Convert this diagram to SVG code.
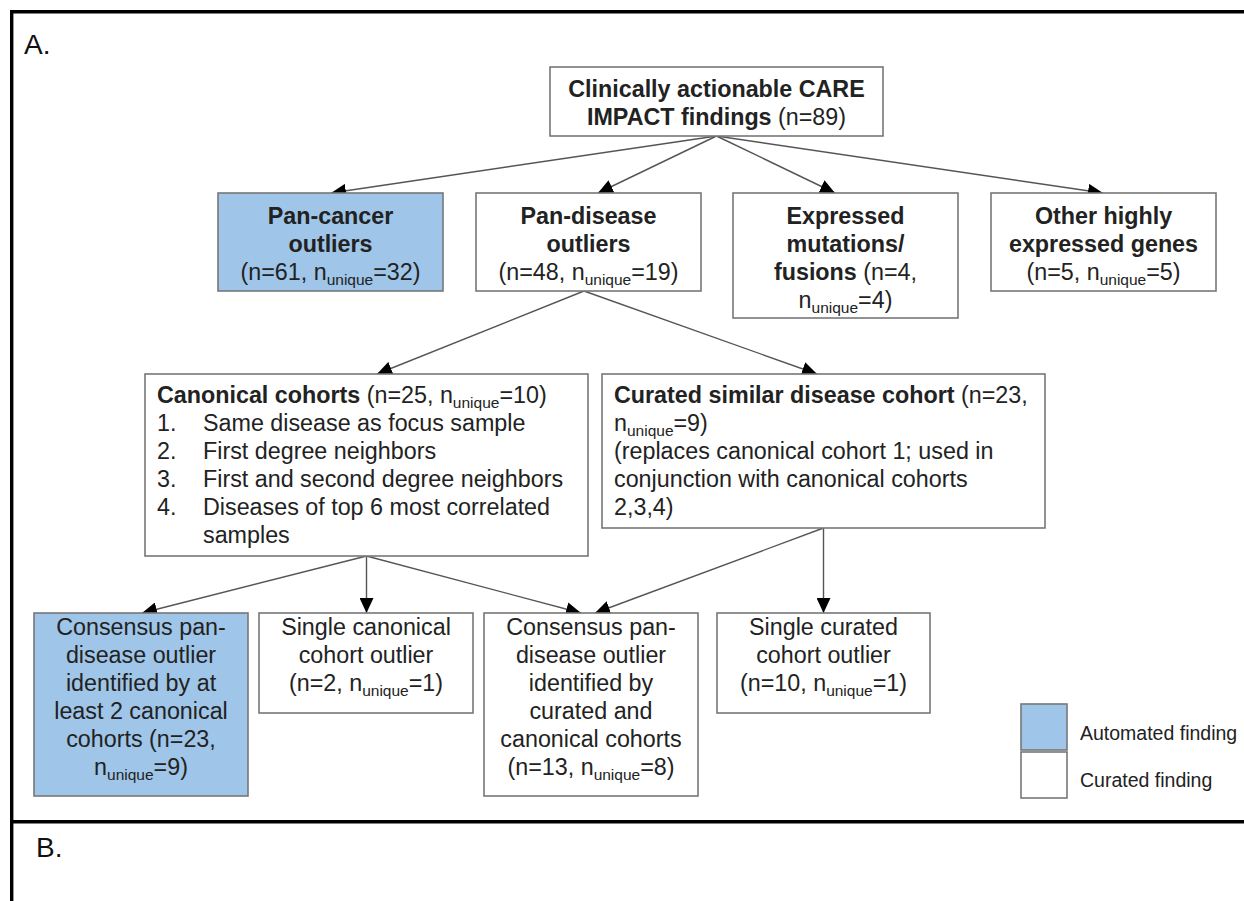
<svg xmlns="http://www.w3.org/2000/svg" width="1244" height="901" viewBox="0 0 1244 901">
<defs>
<style>
.t{font-family:"Liberation Sans",Arial,Helvetica,sans-serif;font-size:23.3px;fill:#222}
.b{font-weight:bold}
.s{font-size:15.5px}
.c{text-anchor:middle}
.box{fill:#fff;stroke:#777;stroke-width:1.6}
.auto{fill:#9fc5e8}
.conn{stroke:#555;stroke-width:1.4;fill:none;marker-end:url(#ah)}
.frame{stroke:#000;stroke-width:3.4;fill:none}
.lbl{font-family:"Liberation Sans",Arial,Helvetica,sans-serif;font-size:28px;fill:#111}
.leg{font-family:"Liberation Sans",Arial,Helvetica,sans-serif;font-size:19.5px;fill:#222}
</style>
<marker id="ah" markerUnits="userSpaceOnUse" markerWidth="15" markerHeight="14" viewBox="0 0 15 14" refX="15" refY="7" orient="auto">
<path d="M0,0 L15,7 L0,14 z" fill="#000"/>
</marker>
</defs>
<rect width="1244" height="901" fill="#fff"/>
<g id="frame">
<path class="frame" d="M10,11.7 H1244 M11.7,10 V901 M10,821.7 H1244"/>
<text class="lbl" x="24" y="54">A.</text>
<text class="lbl" x="36" y="857">B.</text>
</g>
<g id="connectors">
<line class="conn" x1="716.5" y1="136" x2="331" y2="193"/>
<line class="conn" x1="716.5" y1="136" x2="598" y2="193"/>
<line class="conn" x1="716.5" y1="136" x2="835" y2="193"/>
<line class="conn" x1="716.5" y1="136" x2="1103" y2="193"/>
<line class="conn" x1="584" y1="291" x2="377" y2="374"/>
<line class="conn" x1="584" y1="291" x2="817" y2="374"/>
<line class="conn" x1="366.5" y1="556" x2="142" y2="613"/>
<line class="conn" x1="366.5" y1="556" x2="366.5" y2="613"/>
<line class="conn" x1="366.5" y1="556" x2="581" y2="613"/>
<line class="conn" x1="823.5" y1="528" x2="595" y2="613"/>
<line class="conn" x1="823.5" y1="528" x2="823.5" y2="613"/>
</g>
<g id="n-root">
<rect class="box" x="550" y="67" width="333" height="69"/>
<text class="t c" y="96.5"><tspan x="716.5" class="b">Clinically actionable CARE</tspan></text>
<text class="t c" y="124.5"><tspan x="716.5" class="b">IMPACT findings</tspan> (n=89)</text>
</g>
<g id="n-pancancer">
<rect class="box auto" x="218" y="193" width="225" height="98"/>
<text class="t c b" x="330.5" y="224">Pan-cancer</text>
<text class="t c b" x="330.5" y="252">outliers</text>
<text class="t c" x="330.5" y="280">(n=61, n<tspan class="s" dy="5">unique</tspan><tspan dy="-5">=32)</tspan></text>
</g>
<g id="n-pandisease">
<rect class="box" x="476" y="193" width="225" height="98"/>
<text class="t c b" x="588.5" y="224">Pan-disease</text>
<text class="t c b" x="588.5" y="252">outliers</text>
<text class="t c" x="588.5" y="280">(n=48, n<tspan class="s" dy="5">unique</tspan><tspan dy="-5">=19)</tspan></text>
</g>
<g id="n-expressed">
<rect class="box" x="733" y="193" width="225" height="125"/>
<text class="t c b" x="845.5" y="224">Expressed</text>
<text class="t c b" x="845.5" y="252">mutations/</text>
<text class="t c" x="845.5" y="280"><tspan class="b">fusions</tspan> (n=4,</text>
<text class="t c" x="845.5" y="308">n<tspan class="s" dy="5">unique</tspan><tspan dy="-5">=4)</tspan></text>
</g>
<g id="n-other">
<rect class="box" x="991" y="193" width="225" height="98"/>
<text class="t c b" x="1103.5" y="224">Other highly</text>
<text class="t c b" x="1103.5" y="252">expressed genes</text>
<text class="t c" x="1103.5" y="280">(n=5, n<tspan class="s" dy="5">unique</tspan><tspan dy="-5">=5)</tspan></text>
</g>
<g id="n-canonical">
<rect class="box" x="145" y="374" width="443" height="182"/>
<text class="t" x="157" y="403"><tspan class="b">Canonical cohorts</tspan> (n=25, n<tspan class="s" dy="5">unique</tspan><tspan dy="-5">=10)</tspan></text>
<text class="t" x="157" y="431">1.</text><text class="t" x="203" y="431">Same disease as focus sample</text>
<text class="t" x="157" y="459">2.</text><text class="t" x="203" y="459">First degree neighbors</text>
<text class="t" x="157" y="487">3.</text><text class="t" x="203" y="487">First and second degree neighbors</text>
<text class="t" x="157" y="515">4.</text><text class="t" x="203" y="515">Diseases of top 6 most correlated</text>
<text class="t" x="203" y="543">samples</text>
</g>
<g id="n-curated">
<rect class="box" x="602" y="374" width="443" height="154"/>
<text class="t" x="614" y="403"><tspan class="b">Curated similar disease cohort</tspan> (n=23,</text>
<text class="t" x="614" y="431">n<tspan class="s" dy="5">unique</tspan><tspan dy="-5">=9)</tspan></text>
<text class="t" x="614" y="459">(replaces canonical cohort 1; used in</text>
<text class="t" x="614" y="487">conjunction with canonical cohorts</text>
<text class="t" x="614" y="515">2,3,4)</text>
</g>
<g id="n-consensus-canonical">
<rect class="box auto" x="34" y="613" width="214" height="183"/>
<text class="t c" x="141" y="635">Consensus pan-</text>
<text class="t c" x="141" y="663">disease outlier</text>
<text class="t c" x="141" y="691">identified by at</text>
<text class="t c" x="141" y="719">least 2 canonical</text>
<text class="t c" x="141" y="747">cohorts (n=23,</text>
<text class="t c" x="141" y="775">n<tspan class="s" dy="5">unique</tspan><tspan dy="-5">=9)</tspan></text>
</g>
<g id="n-single-canonical">
<rect class="box" x="259" y="613" width="214" height="100"/>
<text class="t c" x="366" y="635">Single canonical</text>
<text class="t c" x="366" y="663">cohort outlier</text>
<text class="t c" x="366" y="691">(n=2, n<tspan class="s" dy="5">unique</tspan><tspan dy="-5">=1)</tspan></text>
</g>
<g id="n-consensus-curated">
<rect class="box" x="484" y="613" width="214" height="183"/>
<text class="t c" x="591" y="635">Consensus pan-</text>
<text class="t c" x="591" y="663">disease outlier</text>
<text class="t c" x="591" y="691">identified by</text>
<text class="t c" x="591" y="719">curated and</text>
<text class="t c" x="591" y="747">canonical cohorts</text>
<text class="t c" x="591" y="775">(n=13, n<tspan class="s" dy="5">unique</tspan><tspan dy="-5">=8)</tspan></text>
</g>
<g id="n-single-curated">
<rect class="box" x="717" y="613" width="213" height="100"/>
<text class="t c" x="823.5" y="635">Single curated</text>
<text class="t c" x="823.5" y="663">cohort outlier</text>
<text class="t c" x="823.5" y="691">(n=10, n<tspan class="s" dy="5">unique</tspan><tspan dy="-5">=1)</tspan></text>
</g>
<g id="legend">
<rect class="box auto" x="1021" y="704" width="46" height="46"/>
<rect class="box" x="1021" y="752" width="46" height="46"/>
<text class="leg" x="1080" y="740">Automated finding</text>
<text class="leg" x="1080" y="787">Curated finding</text>
</g>
</svg>
